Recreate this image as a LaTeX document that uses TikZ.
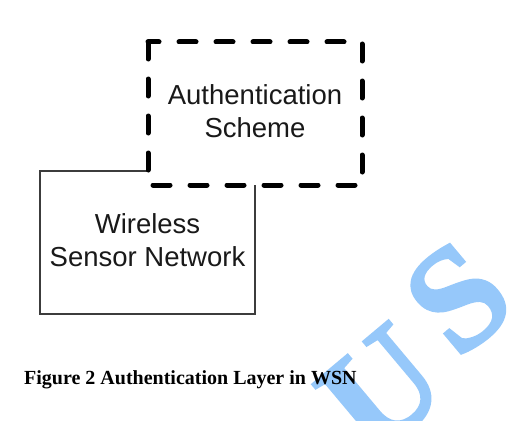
\documentclass[tikz,border=0pt]{standalone}
\usepackage{fontspec}
\setmainfont{Liberation Serif}
\newfontfamily\arialfont{Liberation Sans}
\newfontfamily\wmfont[FakeBold=1.5]{Liberation Serif Bold}
\definecolor{wmblue}{RGB}{150,200,250}
\definecolor{boxgray}{RGB}{60,60,60}
\tikzset{
  dashbox/.style={draw=black, fill=white, line width=5pt, line cap=round, line join=miter, dash pattern=on 17pt off 20pt},
  plainbox/.style={draw=boxgray, line width=1.2pt},
  boxtext/.style={inner sep=0pt, align=center, font=\arialfont\fontsize{27.5}{33}\selectfont, text=black!90},
  captext/.style={inner sep=0pt, anchor=base west, font=\bfseries\fontsize{20}{24}\selectfont},
  wmark/.style={inner sep=0pt, text=wmblue, font=\wmfont\fontsize{148}{148}\selectfont}
}
\begin{document}
\begin{tikzpicture}[x=1pt,y=-1pt]
\useasboundingbox (0,0) rectangle (529,420);
\fill[white] (0,0) rectangle (529,420);
\begin{scope}
\clip (0,0) rectangle (529,420);
\node[wmark, rotate=40] (wmS) at (458,298) {S};
\node[wmark, rotate=40] (wmU) at (382,390) {U};
\end{scope}
% solid box (behind)
\draw[plainbox] (40,171) rectangle (255,314);
% dashed box on top
\path[dashbox] (148,42) rectangle (362,185);
\node[boxtext] (auth) at (255,110.9) {Authentication\\Scheme};
\node[boxtext] (wsn) at (147.5,240.4) {Wireless\\Sensor Network};
\node[captext] (cap) at (24,384) {Figure 2 Authentication Layer in WSN};
\end{tikzpicture}
\end{document}
